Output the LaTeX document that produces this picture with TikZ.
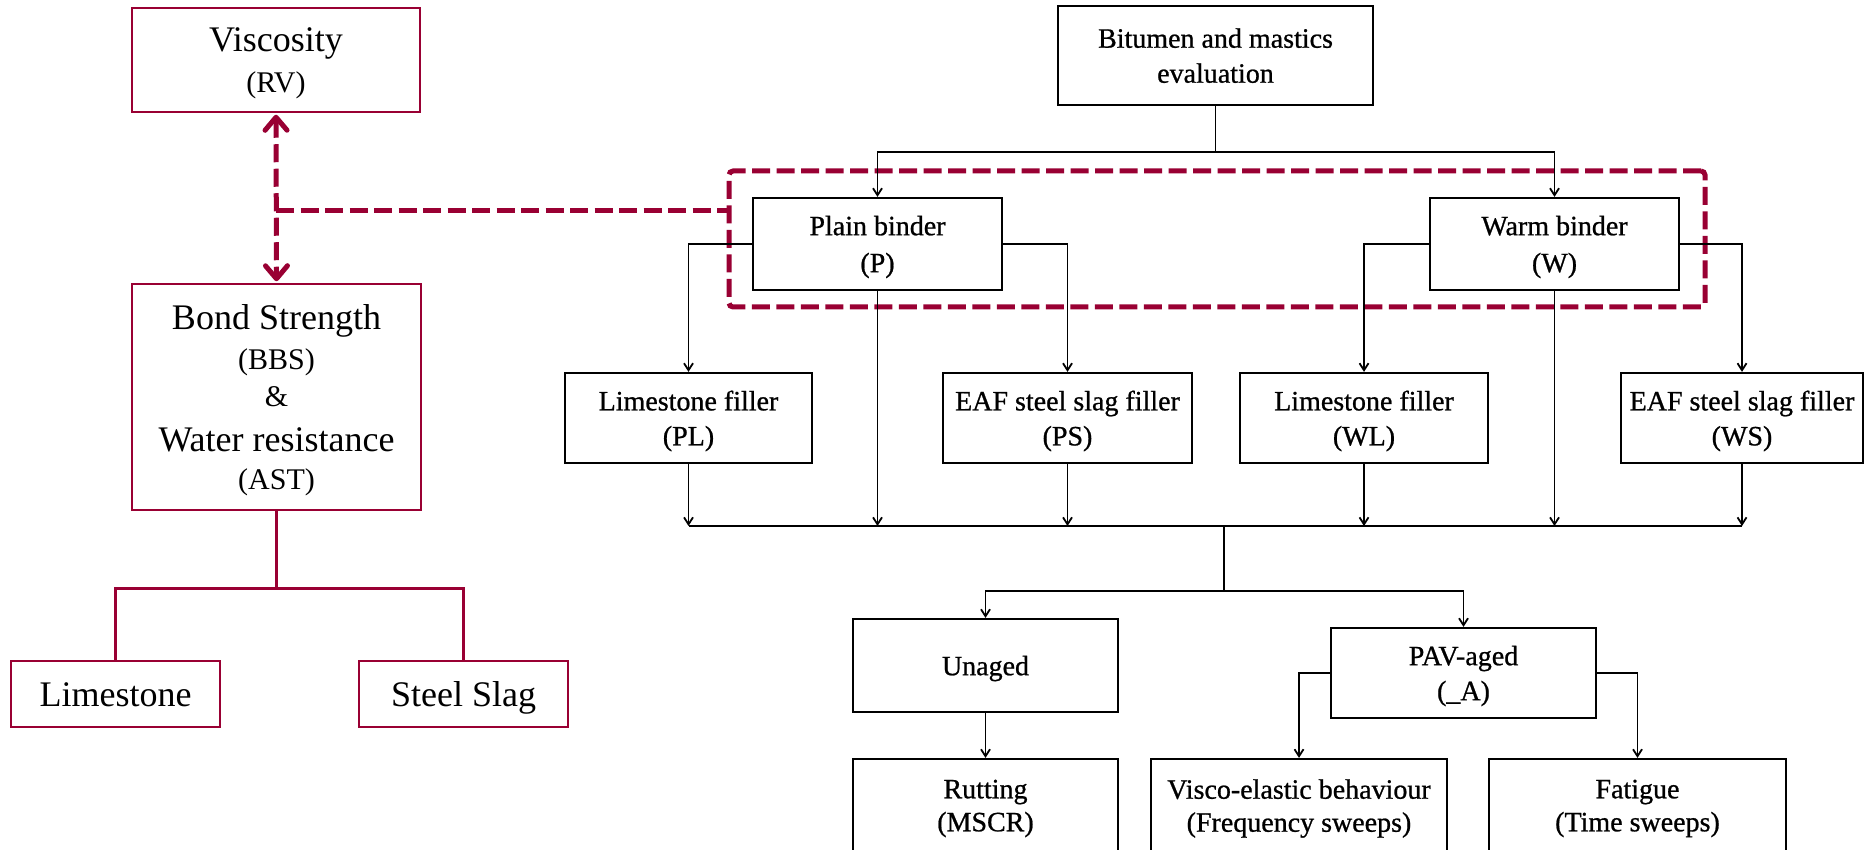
\documentclass[tikz,border=0pt]{standalone}
\usepackage{fontspec}
\setmainfont{Liberation Serif}
\newfontfamily\rtfam[FakeBold=0.8]{Liberation Serif}
\usetikzlibrary{arrows.meta,calc}
\definecolor{maroon}{RGB}{153,0,51}
\newcommand\bigf{\fontsize{36}{40}\selectfont}
\newcommand\smf{\fontsize{30}{34}\selectfont}
\newcommand\rtf{\rtfam\fontsize{28}{35}\selectfont}
\begin{document}
\begin{tikzpicture}[x=1pt,y=-1pt,
 redbox/.style={draw=maroon,line width=2.5pt,inner sep=0pt,align=center,font=\bigf,text depth=0pt},
 blkbox/.style={draw=black,line width=2.2pt,inner sep=0pt,align=center,font=\rtf,text depth=0pt},
 redline/.style={draw=maroon,line width=2.5pt},
 reddash/.style={draw=maroon,line width=5pt,dash pattern=on 18pt off 6.5pt},
 redarr/.style={reddash,{Straight Barb[length=13pt,width=22pt,round]}-{Straight Barb[length=13pt,width=22pt,round]}},
 conn/.style={draw=black,line width=1.8pt},
 arr/.style={conn,-{Straight Barb[length=7pt,width=9pt]}},
]
\clip (0,0) rectangle (1864,850);
\fill[white] (0,0) rectangle (1864,850);

% left part
\node[redbox,minimum width=288pt,minimum height=104pt] (visc) at (276,60) {Viscosity\\[1pt]{\smf (RV)}};
\node[redbox,minimum width=289pt,minimum height=226pt] (bond) at (276.5,397)
  {Bond Strength\\{\smf (BBS)}\\[-3pt]{\smf \&}\\[5pt]Water resistance\\[-2pt]{\smf (AST)}};
\node[redbox,minimum width=209pt,minimum height=66pt,text height=25pt] (lime) at (115.5,694) {Limestone};
\node[redbox,minimum width=209pt,minimum height=66pt,text height=25pt] (slag) at (463.5,694) {Steel Slag};

\coordinate (bt) at ($(bond.south)+(0,77)$);
\draw[redline] (bond.south) -- (bt) -| (lime.north);
\draw[redline] (bt) -| (slag.north);

% dashed group
\node[reddash,rounded corners=4pt,minimum width=976pt,minimum height=136pt] (grp) at (1217,239) {};
\coordinate (j) at ($(visc.south)+(0,97)$);
\draw[redarr,shorten <=1.5pt,shorten >=1.5pt] (visc.south) -- (bond.north);
\draw[reddash] (j) -- (j -| grp.west);

% right part
\node[blkbox,minimum width=315pt,minimum height=99pt] (bit) at (1215.5,55.5) {Bitumen and mastics\\evaluation};
\node[blkbox,minimum width=249pt,minimum height=92pt] (plain) at (877.5,244) {Plain binder\\[2pt](P)};
\node[blkbox,minimum width=249pt,minimum height=92pt] (warm) at (1554.5,244) {Warm binder\\[2pt](W)};
\node[blkbox,minimum width=247pt,minimum height=90pt] (pl) at (688.5,418) {Limestone filler\\(PL)};
\node[blkbox,minimum width=249pt,minimum height=90pt] (ps) at (1067.5,418) {EAF steel slag filler\\(PS)};
\node[blkbox,minimum width=248pt,minimum height=90pt] (wl) at (1364,418) {Limestone filler\\(WL)};
\node[blkbox,minimum width=242pt,minimum height=90pt] (ws) at (1742,418) {EAF steel slag filler\\(WS)};
\node[blkbox,minimum width=265pt,minimum height=93pt] (unaged) at (985.5,665.5) {Unaged};
\node[blkbox,minimum width=265pt,minimum height=90pt] (pav) at (1463.5,673) {PAV-aged\\(\_A)};
\node[blkbox,minimum width=265pt,minimum height=93pt] (rut) at (985.5,805.5) {Rutting\\[-2pt](MSCR)};
\node[blkbox,minimum width=296pt,minimum height=93pt] (visco) at (1299,805.5) {Visco-elastic behaviour\\[-2pt](Frequency sweeps)};
\node[blkbox,minimum width=297pt,minimum height=93pt] (fat) at (1637.5,805.5) {Fatigue\\[-2pt](Time sweeps)};

\coordinate (bj) at ($(bit.south)+(0,46)$);
\coordinate (c) at (1224,526);
\coordinate (d) at (1224,591);

\draw[arr] (bit.south) -- (bj) -| (plain.north);
\draw[arr] (bj) -| (warm.north);
\draw[arr] (plain.west) -| (pl.north);
\draw[arr] (plain.east) -| (ps.north);
\draw[arr] (warm.west) -| (wl.north);
\draw[arr] (warm.east) -| (ws.north);
\draw[arr] (plain.south) -- (plain.south |- c);
\draw[arr] (warm.south) -- (warm.south |- c);
\foreach \n in {pl,ps,wl,ws} {\draw[arr] (\n.south) -- (\n.south |- c);}
\draw[conn] (pl.south |- c) -- (ws.south |- c);
\draw[conn] (c) -- (d);
\draw[arr] (d) -| (unaged.north);
\draw[arr] (d) -| (pav.north);
\draw[arr] (unaged.south) -- (rut.north);
\draw[arr] (pav.west) -| (visco.north);
\draw[arr] (pav.east) -| (fat.north);
\end{tikzpicture}
\end{document}
